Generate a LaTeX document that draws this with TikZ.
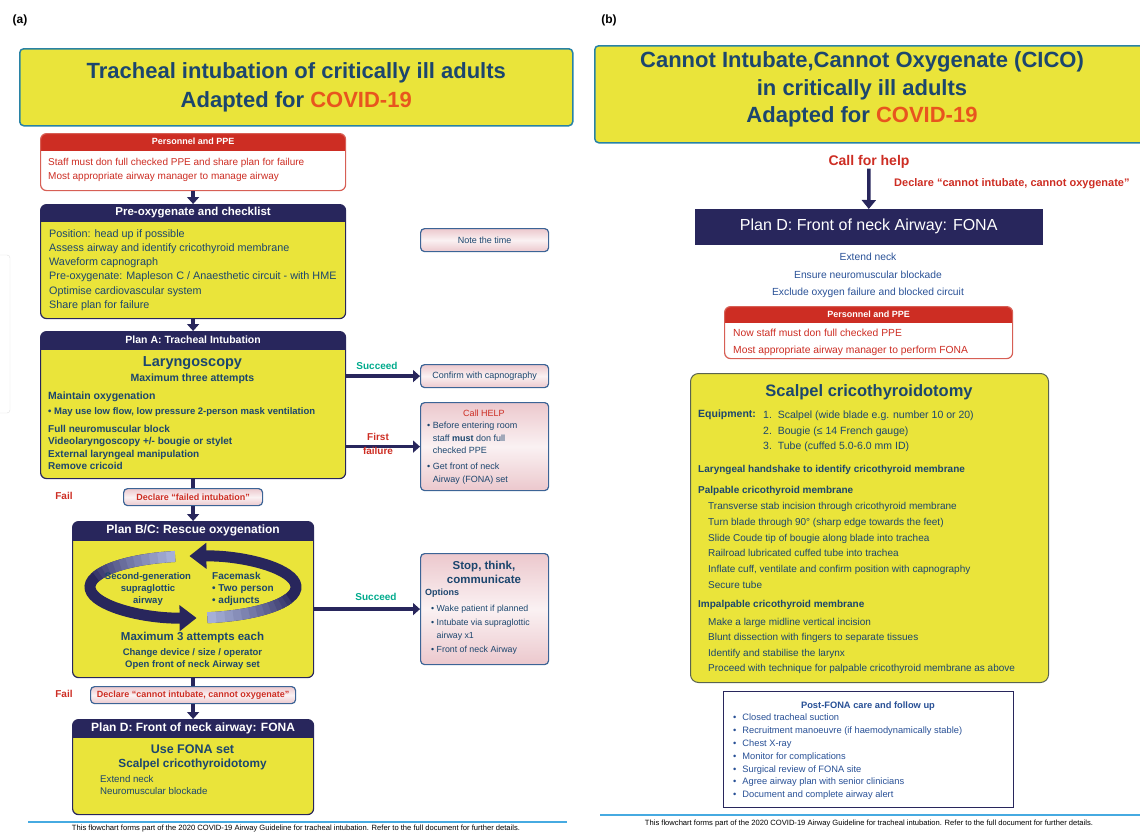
\documentclass[tikz,border=0pt]{standalone}
\usepackage{fontspec}
\setmainfont{Liberation Sans}
\usetikzlibrary{arrows.meta}

\definecolor{capyellow}{RGB}{234,228,58}
\definecolor{capnavy}{RGB}{40,38,92}
\definecolor{captext}{RGB}{28,70,110}
\definecolor{capblue}{RGB}{40,80,150}
\definecolor{capred}{RGB}{205,45,35}
\definecolor{capredl}{RGB}{215,95,85}
\definecolor{caporange}{RGB}{232,85,30}
\definecolor{cappink}{RGB}{236,200,205}
\definecolor{capborder}{RGB}{60,100,150}
\definecolor{capteal}{RGB}{0,170,140}
\definecolor{captitle}{RGB}{40,130,165}
\definecolor{capsteel}{RGB}{165,175,215}
\definecolor{capfoot}{RGB}{70,170,225}
\definecolor{capolive}{RGB}{90,100,80}

\newcommand{\fsz}[2]{\fontsize{#1}{#2}\selectfont}

\tikzset{
	titlebox/.style={draw=captitle, line width=1.5pt, fill=capyellow, rounded corners=4pt, text=captext, font=\fsz{22}{29}\bfseries, align=center, inner sep=0pt},
	hbox/.style={draw=#1, line width=1.2pt, rounded corners=6pt, inner sep=0pt, anchor=north west},
	hdr/.style 2 args={path picture={\fill[#1, sharp corners] (path picture bounding box.north west) rectangle ([yshift=-#2]path picture bounding box.north east);}},
	hdtext/.style={text=white, inner sep=0pt, font=\fsz{10}{12}\bfseries},
	txt/.style={text=captext, inner sep=0pt, align=left, anchor=north west},
	pinkbox/.style={draw=capborder, line width=1.2pt, rounded corners=4pt, top color=cappink, bottom color=cappink, middle color=cappink!25!white, text=captext, inner sep=0pt, font=\fsz{9}{11}},
	declbox/.style={pinkbox, text=capred, font=\fsz{9}{11}\bfseries},
	succtext/.style={text=capteal, inner sep=0pt, font=\fsz{10}{12}\bfseries},
	failtext/.style={text=capred, inner sep=0pt, align=center, font=\fsz{10}{14}\bfseries},
	flowarrow/.style={draw=capnavy, line width=3.5pt, -{Triangle[width=12pt,length=7pt]}},
	flowline/.style={draw=capnavy, line width=3.5pt},
	cycleband/.style={line width=11pt},
	foot/.style={inner sep=0pt, font=\fsz{7.6}{9}},
	footline/.style={draw=capfoot, line width=1.5pt}
}

\begin{document}
\begin{tikzpicture}[x=1pt, y=1pt]
	\useasboundingbox (0,0) rectangle (1140,-833);
	
	% panel letters
	\node[inner sep=0pt, font=\fsz{12}{14}\bfseries] (labA) at (20,-20) {(a)};
	\node[inner sep=0pt, font=\fsz{12}{14}\bfseries] (labB) at (609,-20) {(b)};
	\draw[gray!25, rounded corners=3pt] (-6,-255) rectangle (10,-413);
	
	%%%%% (a) tracheal intubation
	\node[titlebox, minimum width=553pt, minimum height=77pt, anchor=north west] (titleA) at (19,-48) {Tracheal intubation of critically ill adults\\Adapted for \textcolor{caporange}{COVID-19}};
	
	% personnel
	\node[hbox=capredl, hdr={capred}{17pt}, fill=white, minimum width=305pt, minimum height=57pt] (persA) at (40,-133) {};
	\node[hdtext, font=\fsz{9}{11}\bfseries] (persAh) at ([yshift=-8.5pt]persA.north) {Personnel and PPE};
	\node[txt, text=capred, font=\fsz{10}{14.5}] (persAt) at (48,-158) {Staff must don full checked PPE and share plan for failure\\Most appropriate airway manager to manage airway};
	
	% pre-oxygenate
	\node[hbox=capnavy, hdr={capnavy}{17pt}, fill=capyellow, minimum width=305pt, minimum height=114pt] (pre) at (40,-204) {};
	\node[hdtext, font=\fsz{11.5}{14}\bfseries] (preh) at ([yshift=-8.5pt]pre.north) {Pre-oxygenate and checklist};
	\node[txt, font=\fsz{10.8}{14.3}] (pret) at (49,-229) {Position: head up if possible\\Assess airway and identify cricothyroid membrane\\Waveform capnograph\\Pre-oxygenate: Mapleson C / Anaesthetic circuit - with HME\\Optimise cardiovascular system\\Share plan for failure};
	\node[pinkbox, minimum width=128pt, minimum height=23pt, anchor=north west] (note) at (420,-228) {Note the time};
	
	% plan A
	\node[hbox=capnavy, hdr={capnavy}{18pt}, fill=capyellow, minimum width=305pt, minimum height=147pt] (planA) at (40,-331) {};
	\node[hdtext, font=\fsz{10.5}{12}\bfseries] (planAh) at ([yshift=-9pt]planA.north) {Plan A: Tracheal Intubation};
	\node[txt, anchor=center, font=\fsz{14.5}{16}\bfseries] (laryn) at (192.5,-363) {Laryngoscopy};
	\node[txt, anchor=center, font=\fsz{10.5}{12}\bfseries] (maxA) at (192.5,-379) {Maximum three attempts};
	\node[txt, anchor=west, font=\fsz{10.5}{12}\bfseries] (maint) at (48,-397) {Maintain oxygenation};
	\node[txt, anchor=west, font=\fsz{9.5}{12}\bfseries] (maskv) at (48,-412) {• May use low flow, low pressure 2-person mask ventilation};
	\node[txt, font=\fsz{10}{12.3}\bfseries] (listA) at (48,-425) {Full neuromuscular block\\Videolaryngoscopy +/- bougie or stylet\\External laryngeal manipulation\\Remove cricoid};
	
	\node[pinkbox, minimum width=128pt, minimum height=23pt, anchor=north west] (confirm) at (420,-364) {Confirm with capnography};
	\node[pinkbox, minimum width=128pt, minimum height=88pt, anchor=north west] (callhelp) at (420,-402) {};
	\node[inner sep=0pt, text=capred, font=\fsz{9}{11}] (callh) at (484,-413) {Call HELP};
	\node[txt, font=\fsz{9}{12.5}] (callt) at (427,-422) {•\ Before entering room\\\phantom{•\ }staff \textbf{must} don full\\\phantom{•\ }checked PPE\\[3.5pt]•\ Get front of neck\\\phantom{•\ }Airway (FONA) set};
	
	\draw[flowarrow] (persA) -- (pre);
	\draw[flowarrow] (pre) -- (planA);
	\draw[flowarrow] (planA.east |- confirm) -- (confirm.west);
	\node[succtext] (succA) at (377,-366) {Succeed};
	\draw[flowarrow] (planA.east |- callhelp) -- (callhelp.west);
	\node[failtext] (firstf) at (378,-444) {First\\failure};
	
	% plan B/C
	\node[declbox, minimum width=139pt, minimum height=17pt, anchor=north west] (failint) at (123,-488) {Declare “failed intubation”};
	\node[failtext] (failA) at (64,-496) {Fail};
	\node[hbox=capnavy, hdr={capnavy}{19pt}, fill=capyellow, minimum width=241pt, minimum height=156pt] (planB) at (72,-521) {};
	\node[hdtext, font=\fsz{12}{14}\bfseries] (planBh) at ([yshift=-9.5pt]planB.north) {Plan B/C: Rescue oxygenation};
	\draw[flowline] (planA) -- (failint);
	\draw[flowarrow] (failint) -- (planB);
	
	% circular arrows
	\draw[cycleband, capnavy, -{Triangle[width=25pt,length=17pt]}] (193,-587) ++(100:103 and 31) arc[start angle=100, end angle=272, x radius=103, y radius=31];
	\draw[cycleband, capnavy, -{Triangle[width=25pt,length=17pt]}] (193,-587) ++(278:103 and 31) arc[start angle=278, end angle=452, x radius=103, y radius=31];
	\foreach \i [evaluate=\i as \pc using int(100-8*\i), evaluate=\i as \a using 100+5*\i, evaluate=\i as \b using 278+5*\i] in {0,...,11}
	{
		\draw[cycleband, capsteel!\pc!capnavy] (193,-587) ++(\a:103 and 31) arc[start angle=\a, delta angle=5.5, x radius=103, y radius=31];
		\draw[cycleband, capsteel!\pc!capnavy] (193,-587) ++(\b:103 and 31) arc[start angle=\b, delta angle=5.5, x radius=103, y radius=31];
	}
	\node[txt, anchor=center, align=center, font=\fsz{9.5}{11.8}\bfseries] (sga) at (148,-589) {Second-generation\\supraglottic\\airway};
	\node[txt, font=\fsz{10}{12}\bfseries] (fmask) at (212,-572) {Facemask\\• Two person\\• adjuncts};
	\node[txt, anchor=center, font=\fsz{11.5}{13}\bfseries] (max3) at (192.5,-638) {Maximum 3 attempts each};
	\node[txt, anchor=center, align=center, font=\fsz{9.5}{12}\bfseries] (chg) at (192.5,-659) {Change device / size / operator\\Open front of neck Airway set};
	
	% stop think
	\node[pinkbox, minimum width=128pt, minimum height=111pt, anchor=north west] (stop) at (420,-553) {};
	\node[txt, anchor=center, align=center, font=\fsz{11.5}{14}\bfseries] (stoph) at (484,-572) {Stop, think,\\communicate};
	\node[txt, anchor=west, font=\fsz{9}{11}\bfseries] (opt) at (425,-593) {Options};
	\node[txt, font=\fsz{8.8}{12.3}] (optl) at (431,-605) {•\ Wake patient if planned\\[2pt]•\ Intubate via supraglottic\\\phantom{•\ }airway x1\\[2pt]•\ Front of neck Airway};
	\draw[flowarrow] (planB.east |- stop) -- (stop.west);
	\node[succtext] (succB) at (376,-597) {Succeed};
	
	% plan D
	\node[declbox, minimum width=205pt, minimum height=17pt, anchor=north west] (cico) at (90,-686) {Declare “cannot intubate, cannot oxygenate”};
	\node[failtext] (failB) at (64,-694) {Fail};
	\node[hbox=capnavy, hdr={capnavy}{18pt}, fill=capyellow, minimum width=241pt, minimum height=95pt] (planDa) at (72,-719) {};
	\node[hdtext, font=\fsz{12}{14}\bfseries] (planDah) at ([yshift=-9pt]planDa.north) {Plan D: Front of neck airway: FONA};
	\draw[flowline] (planB) -- (cico);
	\draw[flowarrow] (cico) -- (planDa);
	\node[txt, anchor=center, font=\fsz{12.5}{14}\bfseries] (fonaset) at (192.5,-749) {Use FONA set};
	\node[txt, anchor=center, font=\fsz{11.8}{14}\bfseries] (scalpA) at (192.5,-764) {Scalpel cricothyroidotomy};
	\node[txt, font=\fsz{9.7}{12.5}] (extA) at (100,-775) {Extend neck\\Neuromuscular blockade};
	
	\draw[footline] (28,-822) -- (567,-822);
	\node[foot] (footA) at (296,-829) {This flowchart forms part of the 2020 COVID-19 Airway Guideline for tracheal intubation. Refer to the full document for further details.};
	
	%%%%% (b) CICO
	\node[titlebox, minimum width=552pt, minimum height=97pt, anchor=north west] (titleB) at (594,-45) {};
	\node[text=captext, inner sep=0pt, align=center, font=\fsz{22}{27.5}\bfseries] (titleBt) at (862,-89.5) {Cannot Intubate,Cannot Oxygenate (CICO)\\in critically ill adults\\Adapted for \textcolor{caporange}{COVID-19}};
	
	\node[inner sep=0pt, text=capred, font=\fsz{14}{16}\bfseries] (callB) at (869,-162) {Call for help};
	\node[draw=capnavy, fill=capnavy, text=white, inner sep=0pt, minimum width=347pt, minimum height=35pt, anchor=north west, font=\fsz{16}{18}] (planDb) at (695,-209) {Plan D: Front of neck Airway: FONA};
	\draw[draw=capnavy, line width=3.5pt, -{Triangle[width=14pt,length=9pt]}] (callB) -- (planDb);
	\node[inner sep=0pt, anchor=west, text=capred, font=\fsz{11}{13}\bfseries] (declB) at (894,-184) {Declare “cannot intubate, cannot oxygenate”};
	\node[txt, anchor=center, align=center, text=capblue, font=\fsz{10.3}{17.5}] (extB) at (868,-275.5) {Extend neck\\Ensure neuromuscular blockade\\Exclude oxygen failure and blocked circuit};
	
	% personnel
	\node[hbox=capredl, hdr={capred}{16pt}, fill=white, minimum width=288pt, minimum height=52pt] (persB) at (724,-306) {};
	\node[hdtext, font=\fsz{9}{11}\bfseries] (persBh) at ([yshift=-8pt]persB.north) {Personnel and PPE};
	\node[txt, text=capred, font=\fsz{10.3}{16.5}] (persBt) at (733,-329) {Now staff must don full checked PPE\\Most appropriate airway manager to perform FONA};
	
	% scalpel cricothyroidotomy
	\node[draw=capolive, line width=1pt, fill=capyellow, rounded corners=8pt, inner sep=0pt, minimum width=358pt, minimum height=309pt, anchor=north west] (scalp) at (690,-373) {};
	\node[txt, anchor=center, font=\fsz{16.5}{18}\bfseries] (scalpt) at (869,-392) {Scalpel cricothyroidotomy};
	\node[txt, anchor=west, font=\fsz{10.5}{12}\bfseries] (equip) at (698,-415) {Equipment:};
	\node[txt, font=\fsz{10.5}{15.5}] (equipl) at (763,-411) {1.\ \ Scalpel (wide blade e.g. number 10 or 20)\\2.\ \ Bougie (≤ 14 French gauge)\\3.\ \ Tube (cuffed 5.0-6.0 mm ID)};
	\node[txt, anchor=west, font=\fsz{10}{12}\bfseries] (hshake) at (698,-470) {Laryngeal handshake to identify cricothyroid membrane};
	\node[txt, anchor=west, font=\fsz{10}{12}\bfseries] (palp) at (698,-491) {Palpable cricothyroid membrane};
	\node[txt, font=\fsz{10}{15.8}] (palpl) at (708,-502) {Transverse stab incision through cricothyroid membrane\\Turn blade through 90° (sharp edge towards the feet)\\Slide Coude tip of bougie along blade into trachea\\Railroad lubricated cuffed tube into trachea\\Inflate cuff, ventilate and confirm position with capnography\\Secure tube};
	\node[txt, anchor=west, font=\fsz{10}{12}\bfseries] (impalp) at (698,-605) {Impalpable cricothyroid membrane};
	\node[txt, font=\fsz{10}{15.3}] (impalpl) at (708,-618) {Make a large midline vertical incision\\Blunt dissection with fingers to separate tissues\\Identify and stabilise the larynx\\Proceed with technique for palpable cricothyroid membrane as above};
	
	% post-FONA
	\node[draw=capnavy, line width=1pt, fill=white, inner sep=0pt, minimum width=290pt, minimum height=116pt, anchor=north west] (post) at (723,-691) {};
	\node[txt, anchor=center, text=capblue, font=\fsz{9.3}{11}\bfseries] (postt) at (868,-706) {Post-FONA care and follow up};
	\node[txt, text=capblue, font=\fsz{9.3}{12.8}] (postl) at (733,-714) {•\hspace{6pt}Closed tracheal suction\\•\hspace{6pt}Recruitment manoeuvre (if haemodynamically stable)\\•\hspace{6pt}Chest X-ray\\•\hspace{6pt}Monitor for complications\\•\hspace{6pt}Surgical review of FONA site\\•\hspace{6pt}Agree airway plan with senior clinicians\\•\hspace{6pt}Document and complete airway alert};
	
	\draw[footline] (600,-815) -- (1140,-815);
	\node[foot] (footB) at (869,-824) {This flowchart forms part of the 2020 COVID-19 Airway Guideline for tracheal intubation. Refer to the full document for further details.};
\end{tikzpicture}
\end{document}
